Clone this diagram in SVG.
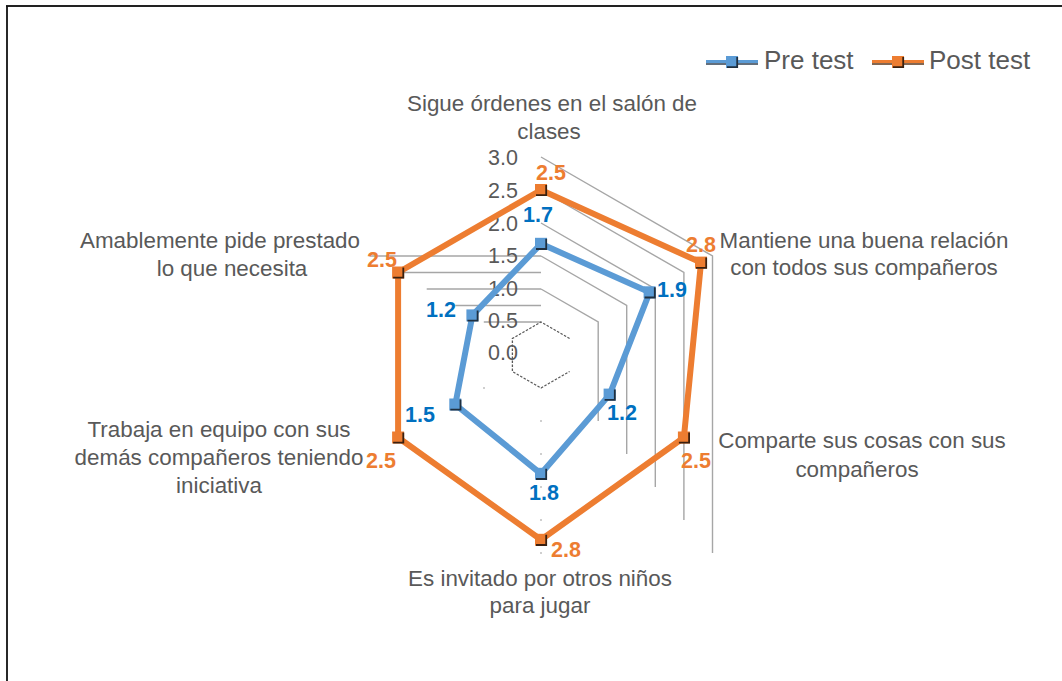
<svg xmlns="http://www.w3.org/2000/svg" xmlns:xlink="http://www.w3.org/1999/xlink" width="1062" height="681" viewBox="0 0 1062 681">
<style>
.cat{font-family:"Liberation Sans",Arial,sans-serif;font-size:22.4px;fill:#595959;text-anchor:middle}
.ax{font-family:"Liberation Sans",Arial,sans-serif;font-size:21.5px;fill:#595959;text-anchor:end}
.leg{font-family:"Liberation Sans",Arial,sans-serif;font-size:26px;fill:#595959}
.dlb{font-family:"Liberation Sans",Arial,sans-serif;font-size:21.5px;font-weight:bold;fill:#0070C0}
.dlo{font-family:"Liberation Sans",Arial,sans-serif;font-size:21.5px;font-weight:bold;fill:#ED7D31}
.grid{fill:none;stroke:#A6A6A6;stroke-width:1.4}
.dot{fill:#BFBFBF}
.pre{fill:none;stroke:#5B9BD5;stroke-width:6;stroke-linejoin:round}
.post{fill:none;stroke:#ED7D31;stroke-width:6;stroke-linejoin:round}
</style>
<defs>
<g id="mkb">
<rect x="-6" y="-6" width="12" height="12" fill="#5B9BD5"/>
<path d="M-5,5.2 H5.2 V-5" fill="none" stroke="#1F2F3F" stroke-width="1.8"/>
</g>
<g id="mko">
<rect x="-6" y="-6" width="12" height="12" fill="#ED7D31"/>
<path d="M-5,5.2 H5.2 V-5" fill="none" stroke="#3A2010" stroke-width="1.8"/>
</g>
</defs>
<rect width="1062" height="681" fill="#FFFFFF"/>
<g id="frame">
<line x1="6" y1="6" x2="1062" y2="6" stroke="#222" stroke-width="1.8"/>
<line x1="7" y1="6" x2="7" y2="681" stroke="#111" stroke-width="1.8"/>
</g>
<g id="legend">
<line x1="706" y1="61.5" x2="758" y2="61.5" stroke="#5B9BD5" stroke-width="3"/>
<line x1="706" y1="64" x2="758" y2="64" stroke="#2F3F50" stroke-width="1.6"/>
<use xlink:href="#mkb" x="732" y="62"/>
<text class="leg" x="764" y="69">Pre test</text>
<line x1="872" y1="61.5" x2="924" y2="61.5" stroke="#ED7D31" stroke-width="3"/>
<line x1="872" y1="64" x2="924" y2="64" stroke="#5A3418" stroke-width="1.6"/>
<use xlink:href="#mko" x="898" y="62"/>
<text class="leg" x="929" y="69">Post test</text>
</g>
<g id="gridlines">
<path class="grid" d="M541,157 L712.5,256 V553 M541,190 L683.9,272.5 V520 M541,223 L655.3,289 V487 M541,256 L626.7,305.5 V454 M541,289 L598.2,322 V421"/>
<path class="grid" d="M369.5,256 H541 M398.1,272.5 H541 M426.7,289 H541 M455.3,305.5 H541 M483.8,322 H541"/>
<path d="M569.6,338.5 L541,322 L512.4,338.5 V371.5 L541,388 L569.6,371.5" fill="none" stroke="#595959" stroke-width="1.3" stroke-dasharray="2.5 1.5"/>
<circle class="dot" cx="541" cy="421" r="1"/>
<circle class="dot" cx="541" cy="454" r="1"/>
<circle class="dot" cx="541" cy="487" r="1"/>
<circle class="dot" cx="541" cy="520" r="1"/>
<circle class="dot" cx="541" cy="553" r="1"/>
<circle class="dot" cx="484" cy="388" r="1"/>
<circle class="dot" cx="427" cy="421" r="1"/>
<circle class="dot" cx="369.5" cy="454" r="1"/>
</g>
<g id="axis-labels">
<text class="ax" x="518" y="165">3.0</text>
<text class="ax" x="518" y="198">2.5</text>
<text class="ax" x="518" y="231">2.0</text>
<text class="ax" x="518" y="263">1.5</text>
<text class="ax" x="518" y="296">1.0</text>
<text class="ax" x="518" y="328">0.5</text>
<text class="ax" x="518" y="360">0.0</text>
</g>
<g id="category-labels">
<g id="cat-sigue">
<text class="cat" x="552" y="111">Sigue órdenes en el salón de</text>
<text class="cat" x="549" y="139">clases</text>
</g>
<g id="cat-mantiene">
<text class="cat" x="864" y="248">Mantiene una buena relación</text>
<text class="cat" x="864" y="275">con todos sus compañeros</text>
</g>
<g id="cat-comparte">
<text class="cat" x="862" y="448">Comparte sus cosas con sus</text>
<text class="cat" x="857" y="477">compañeros</text>
</g>
<g id="cat-invitado">
<text class="cat" x="540" y="586">Es invitado por otros niños</text>
<text class="cat" x="540" y="613">para jugar</text>
</g>
<g id="cat-trabaja">
<text class="cat" x="219" y="437">Trabaja en equipo con sus</text>
<text class="cat" x="219" y="465">demás compañeros teniendo</text>
<text class="cat" x="219" y="493">iniciativa</text>
</g>
<g id="cat-amablemente">
<text class="cat" x="220" y="248">Amablemente pide prestado</text>
<text class="cat" x="232" y="276">lo que necesita</text>
</g>
</g>
<g id="series">
<g id="series-pre">
<polygon class="pre" points="541,243.8 649.6,292.3 609.6,394.6 541,473.8 455.3,404.5 472.4,315.4"/>
<use xlink:href="#mkb" x="541" y="243.8"/>
<use xlink:href="#mkb" x="649.6" y="292.3"/>
<use xlink:href="#mkb" x="609.6" y="394.6"/>
<use xlink:href="#mkb" x="541" y="473.8"/>
<use xlink:href="#mkb" x="455.3" y="404.5"/>
<use xlink:href="#mkb" x="472.4" y="315.4"/>
</g>
<g id="series-post">
<polygon class="post" points="541,190 701,262.6 683.9,437.5 541,539.8 398.1,437.5 398.1,272.5"/>
<use xlink:href="#mko" x="541" y="190"/>
<use xlink:href="#mko" x="701" y="262.6"/>
<use xlink:href="#mko" x="683.9" y="437.5"/>
<use xlink:href="#mko" x="541" y="539.8"/>
<use xlink:href="#mko" x="398.1" y="437.5"/>
<use xlink:href="#mko" x="398.1" y="272.5"/>
</g>
</g>
<g id="data-labels">
<text class="dlb" x="523" y="222">1.7</text>
<text class="dlb" x="657" y="297">1.9</text>
<text class="dlb" x="607" y="420">1.2</text>
<text class="dlb" x="529" y="500">1.8</text>
<text class="dlb" x="405" y="422">1.5</text>
<text class="dlb" x="426" y="317">1.2</text>
<text class="dlo" x="536" y="180">2.5</text>
<text class="dlo" x="686" y="252">2.8</text>
<text class="dlo" x="681" y="468">2.5</text>
<text class="dlo" x="551" y="557">2.8</text>
<text class="dlo" x="366" y="468">2.5</text>
<text class="dlo" x="367" y="267">2.5</text>
</g>
</svg>
